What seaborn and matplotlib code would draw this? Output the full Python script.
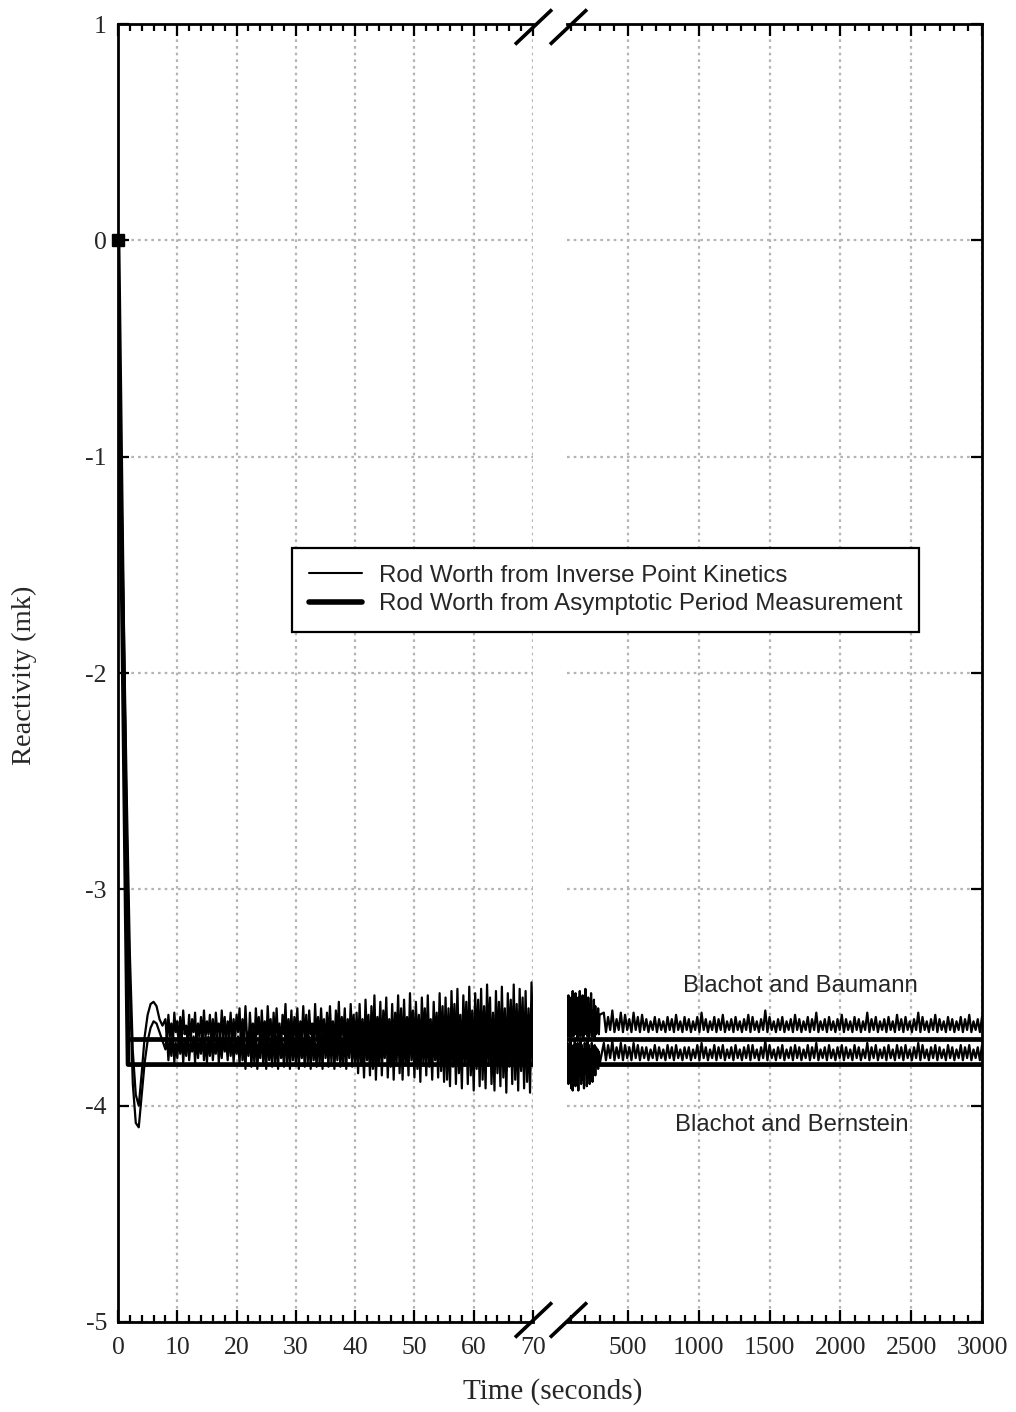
import numpy as np
import pandas as pd
import matplotlib
matplotlib.use("Agg")
import matplotlib.pyplot as plt
from matplotlib.lines import Line2D
from matplotlib.ticker import MultipleLocator, FixedLocator
import seaborn as sns

# ---------------- data ----------------
# early transient of the inverse point kinetics (IPK) results
t_early = [0.0, 0.5, 1.0, 1.5, 2.0, 2.5, 3.0, 3.5, 4.0, 4.5, 5.0, 5.5, 6.0, 6.5, 7.0, 7.5]
ipk_baumann_early = [0.0, -1.0, -1.8, -2.6, -3.3, -3.75, -3.95, -4.0, -3.85, -3.68,
                     -3.58, -3.53, -3.52, -3.54, -3.60, -3.63]
ipk_bernstein_early = [0.0, -1.05, -1.9, -2.75, -3.45, -3.9, -4.08, -4.1, -3.95, -3.8,
                       -3.70, -3.64, -3.61, -3.62, -3.66, -3.70]

# IPK, 8 s .. 70 s, sampled every 0.25 s
ipk_step_left = 0.25
ipk_baumann_left = [
    -3.60, -3.70, -3.58, -3.68, -3.62, -3.71, -3.57, -3.66, -3.61, -3.72,
    -3.59, -3.69, -3.56, -3.67, -3.63, -3.70, -3.58, -3.71, -3.60, -3.66,
    -3.57, -3.72, -3.62, -3.68, -3.59, -3.70, -3.56, -3.69, -3.61, -3.67,
    -3.58, -3.71, -3.60, -3.72, -3.57, -3.66, -3.62, -3.70, -3.56, -3.68,
    -3.59, -3.71, -3.61, -3.67, -3.57, -3.72, -3.60, -3.69, -3.58,
    -3.66, -3.55, -3.72, -3.60, -3.70, -3.54, -3.68, -3.74, -3.57, -3.69,
    -3.62, -3.73, -3.55, -3.67, -3.59, -3.74, -3.56, -3.70, -3.61, -3.72,
    -3.54, -3.68, -3.60, -3.73, -3.57, -3.71, -3.55, -3.69, -3.62, -3.74,
    -3.58, -3.67, -3.53, -3.72, -3.60, -3.70, -3.56, -3.74, -3.59, -3.68,
    -3.55, -3.73, -3.61, -3.69, -3.54, -3.71, -3.58, -3.74, -3.56, -3.67,
    -3.62, -3.73, -3.53, -3.70, -3.59, -3.72, -3.55, -3.68, -3.60, -3.74,
    -3.57, -3.71, -3.54, -3.69, -3.61, -3.73, -3.56, -3.70, -3.52, -3.72,
    -3.59, -3.68, -3.55, -3.74, -3.60, -3.71, -3.53, -3.69, -3.58, -3.73,
    -3.57, -3.76, -3.53, -3.72, -3.60, -3.78, -3.51, -3.70, -3.58, -3.77,
    -3.54, -3.73, -3.49, -3.75, -3.59, -3.71, -3.52, -3.78, -3.56, -3.69,
    -3.50, -3.76, -3.60, -3.74, -3.53, -3.77, -3.57, -3.70, -3.49, -3.75,
    -3.55, -3.78, -3.51, -3.72, -3.59, -3.76, -3.48, -3.71, -3.56, -3.77,
    -3.52, -3.74, -3.58, -3.79, -3.50, -3.70, -3.55, -3.76, -3.49, -3.73,
    -3.60, -3.78, -3.52, -3.71, -3.57, -3.77, -3.48, -3.74, -3.54, -3.79,
    -3.50, -3.77, -3.55, -3.81, -3.47, -3.72, -3.53, -3.79, -3.46, -3.74,
    -3.58, -3.82, -3.49, -3.70, -3.52, -3.80, -3.45, -3.76, -3.56, -3.83,
    -3.48, -3.73, -3.51, -3.81, -3.46, -3.78, -3.54, -3.82, -3.44, -3.71,
    -3.50, -3.79, -3.57, -3.83, -3.47, -3.75, -3.52, -3.81, -3.45, -3.77,
    -3.55, -3.84, -3.48, -3.72, -3.51, -3.80, -3.44, -3.78, -3.53, -3.83,
    -3.46, -3.74, -3.50, -3.82, -3.47, -3.79, -3.55, -3.84, -3.43, -3.70,
]
ipk_bernstein_left = [
    -3.74, -3.67, -3.79, -3.70, -3.77, -3.66, -3.80, -3.71, -3.78, -3.68,
    -3.76, -3.67, -3.80, -3.69, -3.77, -3.66, -3.79, -3.71, -3.75, -3.68,
    -3.80, -3.67, -3.78, -3.70, -3.76, -3.66, -3.79, -3.69, -3.80, -3.68,
    -3.77, -3.67, -3.79, -3.71, -3.76, -3.66, -3.80, -3.69, -3.78, -3.67,
    -3.75, -3.70, -3.79, -3.66, -3.77, -3.68, -3.80, -3.69, -3.76,
    -3.68, -3.81, -3.65, -3.79, -3.70, -3.83, -3.66, -3.77, -3.64, -3.82,
    -3.69, -3.80, -3.65, -3.83, -3.71, -3.78, -3.64, -3.81, -3.67, -3.83,
    -3.66, -3.79, -3.70, -3.82, -3.64, -3.80, -3.68, -3.83, -3.65, -3.78,
    -3.71, -3.82, -3.63, -3.80, -3.67, -3.83, -3.65, -3.79, -3.69, -3.81,
    -3.64, -3.83, -3.66, -3.78, -3.70, -3.82, -3.63, -3.80, -3.68, -3.83,
    -3.65, -3.79, -3.71, -3.82, -3.64, -3.81, -3.67, -3.83, -3.63, -3.78,
    -3.69, -3.82, -3.65, -3.80, -3.62, -3.83, -3.68, -3.79, -3.64, -3.82,
    -3.70, -3.81, -3.63, -3.83, -3.66, -3.78, -3.62, -3.82, -3.67, -3.80,
    -3.66, -3.85, -3.62, -3.81, -3.69, -3.87, -3.61, -3.79, -3.67, -3.86,
    -3.63, -3.83, -3.60, -3.88, -3.68, -3.80, -3.62, -3.86, -3.65, -3.78,
    -3.60, -3.87, -3.69, -3.82, -3.63, -3.88, -3.66, -3.80, -3.59, -3.85,
    -3.64, -3.88, -3.61, -3.81, -3.68, -3.86, -3.59, -3.79, -3.65, -3.87,
    -3.62, -3.83, -3.67, -3.89, -3.60, -3.80, -3.64, -3.86, -3.59, -3.82,
    -3.69, -3.88, -3.61, -3.79, -3.66, -3.87, -3.58, -3.84, -3.63, -3.89,
    -3.60, -3.88, -3.65, -3.91, -3.57, -3.82, -3.63, -3.90, -3.56, -3.85,
    -3.68, -3.92, -3.58, -3.80, -3.62, -3.90, -3.55, -3.86, -3.66, -3.93,
    -3.58, -3.83, -3.61, -3.91, -3.56, -3.88, -3.64, -3.92, -3.54, -3.81,
    -3.60, -3.90, -3.67, -3.93, -3.57, -3.85, -3.62, -3.91, -3.55, -3.87,
    -3.65, -3.94, -3.58, -3.82, -3.61, -3.90, -3.54, -3.88, -3.63, -3.93,
    -3.56, -3.84, -3.60, -3.92, -3.57, -3.89, -3.65, -3.94, -3.53, -3.80,
]

# IPK, 70 s .. 300 s every 5 s
ipk_step_mid = 5
ipk_baumann_mid = [
    -3.52, -3.68, -3.49, -3.66, -3.55, -3.69, -3.50, -3.64, -3.47, -3.68,
    -3.53, -3.67, -3.48, -3.65, -3.56, -3.69, -3.50, -3.66, -3.47, -3.68,
    -3.54, -3.64, -3.49, -3.69, -3.52, -3.67, -3.46, -3.65, -3.55, -3.68,
    -3.50, -3.69, -3.53, -3.66, -3.48, -3.68, -3.56, -3.65, -3.51, -3.69,
    -3.54, -3.67, -3.57, -3.66, -3.55, -3.67, -3.58,
]
ipk_bernstein_mid = [
    -3.86, -3.71, -3.90, -3.73, -3.88, -3.70, -3.92, -3.74, -3.93, -3.72,
    -3.87, -3.70, -3.91, -3.75, -3.89, -3.71, -3.93, -3.73, -3.86, -3.70,
    -3.90, -3.72, -3.88, -3.74, -3.92, -3.71, -3.85, -3.73, -3.91, -3.70,
    -3.87, -3.72, -3.90, -3.74, -3.86, -3.71, -3.89, -3.73, -3.84, -3.72,
    -3.86, -3.73, -3.82, -3.74, -3.83, -3.75, -3.81,
]

# IPK, 330 s .. 3000 s every 15 s
ipk_step_late = 15
ipk_baumann_late = [
    -3.57, -3.66, -3.59, -3.65, -3.56, -3.66, -3.60, -3.65, -3.57, -3.66,
    -3.58, -3.65, -3.60, -3.66, -3.57, -3.65, -3.59, -3.66, -3.58, -3.65,
    -3.60, -3.66, -3.61, -3.65, -3.59, -3.66, -3.60, -3.65, -3.61, -3.66,
    -3.59, -3.65, -3.60, -3.66, -3.58, -3.65, -3.61, -3.66, -3.59, -3.65,
    -3.60, -3.66, -3.61, -3.65, -3.59, -3.66, -3.57, -3.65, -3.60, -3.66,
    -3.61, -3.65, -3.59, -3.66, -3.60, -3.65, -3.58, -3.66, -3.61, -3.65,
    -3.60, -3.66, -3.59, -3.65, -3.61, -3.66, -3.60, -3.65, -3.58, -3.66,
    -3.59, -3.65, -3.61, -3.66, -3.60, -3.65, -3.56, -3.66, -3.59, -3.65,
    -3.61, -3.66, -3.60, -3.65, -3.59, -3.66, -3.61, -3.65, -3.60, -3.66,
    -3.58, -3.65, -3.60, -3.66, -3.61, -3.65, -3.59, -3.66, -3.60, -3.65,
    -3.57, -3.66, -3.61, -3.65, -3.60, -3.66, -3.59, -3.65, -3.61, -3.66,
    -3.60, -3.65, -3.58, -3.66, -3.60, -3.65, -3.61, -3.66, -3.59, -3.65,
    -3.60, -3.66, -3.61, -3.65, -3.57, -3.66, -3.60, -3.65, -3.59, -3.66,
    -3.61, -3.65, -3.60, -3.66, -3.59, -3.65, -3.61, -3.66, -3.58, -3.65,
    -3.60, -3.66, -3.59, -3.65, -3.61, -3.66, -3.60, -3.65, -3.57, -3.66,
    -3.59, -3.65, -3.61, -3.66, -3.60, -3.65, -3.58, -3.66, -3.60, -3.65,
    -3.61, -3.66, -3.59, -3.65, -3.60, -3.66, -3.61, -3.65, -3.59, -3.66,
    -3.60, -3.65, -3.58, -3.66, -3.61, -3.65, -3.60, -3.66, -3.59,
]
ipk_bernstein_late = [
    -3.71, -3.79, -3.72, -3.78, -3.70, -3.79, -3.73, -3.78, -3.71, -3.79,
    -3.72, -3.78, -3.73, -3.79, -3.71, -3.78, -3.72, -3.79, -3.73, -3.78,
    -3.73, -3.79, -3.74, -3.78, -3.72, -3.79, -3.73, -3.78, -3.74, -3.79,
    -3.72, -3.78, -3.73, -3.79, -3.72, -3.78, -3.74, -3.79, -3.73, -3.78,
    -3.73, -3.79, -3.74, -3.78, -3.72, -3.79, -3.71, -3.78, -3.73, -3.79,
    -3.74, -3.78, -3.72, -3.79, -3.73, -3.78, -3.72, -3.79, -3.74, -3.78,
    -3.73, -3.79, -3.72, -3.78, -3.74, -3.79, -3.73, -3.78, -3.72, -3.79,
    -3.72, -3.78, -3.74, -3.79, -3.73, -3.78, -3.70, -3.79, -3.72, -3.78,
    -3.74, -3.79, -3.73, -3.78, -3.72, -3.79, -3.74, -3.78, -3.73, -3.79,
    -3.72, -3.78, -3.73, -3.79, -3.74, -3.78, -3.72, -3.79, -3.73, -3.78,
    -3.71, -3.79, -3.74, -3.78, -3.73, -3.79, -3.72, -3.78, -3.74, -3.79,
    -3.73, -3.78, -3.72, -3.79, -3.73, -3.78, -3.74, -3.79, -3.72, -3.78,
    -3.73, -3.79, -3.74, -3.78, -3.71, -3.79, -3.73, -3.78, -3.72, -3.79,
    -3.74, -3.78, -3.73, -3.79, -3.72, -3.78, -3.74, -3.79, -3.72, -3.78,
    -3.73, -3.79, -3.72, -3.78, -3.74, -3.79, -3.73, -3.78, -3.71, -3.79,
    -3.72, -3.78, -3.74, -3.79, -3.73, -3.78, -3.72, -3.79, -3.73, -3.78,
    -3.74, -3.79, -3.72, -3.78, -3.73, -3.79, -3.74, -3.78, -3.72, -3.79,
    -3.73, -3.78, -3.72, -3.79, -3.74, -3.78, -3.73, -3.79, -3.72,
]

# asymptotic period measurement (thick lines)
apm_bernstein_t = [0.0, 1.7, 3000.0]
apm_bernstein = [0.0, -3.81, -3.81]
apm_baumann_t = [2.0, 3000.0]
apm_baumann = [-3.69, -3.69]

left_xticks = [0, 10, 20, 30, 40, 50, 60, 70]
right_xticks = [500, 1000, 1500, 2000, 2500, 3000]
yticks = [1, 0, -1, -2, -3, -4, -5]

legend_labels = ["Rod Worth from Inverse Point Kinetics",
                 "Rod Worth from Asymptotic Period Measurement"]
annot_baumann = "Blachot and Baumann"
annot_bernstein = "Blachot and Bernstein"

# ---------------- assemble series ----------------
t_left = np.concatenate([t_early, 8.0 + ipk_step_left * np.arange(len(ipk_baumann_left))])
t_mid = 70.0 + ipk_step_mid * np.arange(len(ipk_baumann_mid))
t_late = 330.0 + ipk_step_late * np.arange(len(ipk_baumann_late))
t_right = np.concatenate([t_mid, t_late])

left_df = pd.DataFrame({
    "t": np.concatenate([t_left, t_left]),
    "rho": np.concatenate([ipk_baumann_early + ipk_baumann_left,
                           ipk_bernstein_early + ipk_bernstein_left]),
    "set": ["Baumann"] * len(t_left) + ["Bernstein"] * len(t_left),
})
right_df = pd.DataFrame({
    "t": np.concatenate([t_right, t_right]),
    "rho": np.concatenate([ipk_baumann_mid + ipk_baumann_late,
                           ipk_bernstein_mid + ipk_bernstein_late]),
    "set": ["Baumann"] * len(t_right) + ["Bernstein"] * len(t_right),
})
apm_df = pd.DataFrame({
    "t": apm_bernstein_t + apm_baumann_t,
    "rho": apm_bernstein + apm_baumann,
    "set": ["Bernstein"] * len(apm_bernstein_t) + ["Baumann"] * len(apm_baumann_t),
})

# ---------------- style ----------------
sns.set_theme(style="white")
plt.rcParams["font.family"] = ["Liberation Serif", "DejaVu Serif"]
plt.rcParams["axes.unicode_minus"] = False
plt.rcParams["axes.edgecolor"] = "black"

W, H = 1016, 1412
fig = plt.figure(figsize=(W / 100, H / 100), dpi=100)
fig.patch.set_facecolor("white")

ax_bottom = (H - 1322) / H
ax_height = 1298 / H
ax1 = fig.add_axes([118 / W, ax_bottom, 415 / W, ax_height])
ax2 = fig.add_axes([567 / W, ax_bottom, 415 / W, ax_height])

thin_lw = 1.6
thick_lw = 3.4

for ax, df in ((ax1, left_df), (ax2, right_df)):
    sns.lineplot(data=df, x="t", y="rho", units="set", estimator=None, sort=False,
                 color="black", linewidth=thin_lw, ax=ax, legend=False)
    sns.lineplot(data=apm_df, x="t", y="rho", units="set", estimator=None, sort=False,
                 color="black", linewidth=thick_lw, ax=ax, legend=False)

ax1.plot([apm_bernstein_t[0]], [apm_bernstein[0]], marker="s", markersize=9,
         color="black", clip_on=False, zorder=5)

ax1.set_xlim(0, 70)
ax2.set_xlim(70, 3000)
tick_fs = 18.5
for ax in (ax1, ax2):
    ax.set_ylim(-5, 1)
    ax.set_xlabel("")
    ax.set_ylabel("")
    ax.set_facecolor("white")
    ax.yaxis.set_major_locator(FixedLocator(yticks))
    ax.grid(True, which="major", color="#b4b4b4", linestyle=(0, (1.2, 1.8)), linewidth=1.6)
    for s in ax.spines.values():
        s.set_linewidth(2.0)
        s.set_color("black")
    ax.tick_params(axis="x", which="both", direction="in", top=True, bottom=True,
                   labelsize=tick_fs, pad=11, width=1.6, color="black")
    ax.tick_params(axis="x", which="major", length=8.5)
    ax.tick_params(axis="x", which="minor", length=5)

ax1.xaxis.set_major_locator(FixedLocator(left_xticks))
ax1.xaxis.set_minor_locator(MultipleLocator(2))
ax2.xaxis.set_major_locator(FixedLocator(right_xticks))
ax2.xaxis.set_minor_locator(MultipleLocator(100))

ax1.spines["right"].set_visible(False)
ax2.spines["left"].set_visible(False)
ax1.tick_params(axis="y", which="major", direction="in", left=True, right=False,
                length=8, width=1.6, labelsize=tick_fs, pad=8, color="black")
ax2.tick_params(axis="y", which="major", direction="in", left=False, right=True,
                labelleft=False, labelright=False, length=8, width=1.6, color="black")

# break marks
def slash(xc, yc):
    fig.add_artist(Line2D([(xc - 18.5) / W, (xc + 18.5) / W],
                          [1 - (yc + 17.5) / H, 1 - (yc - 17.5) / H],
                          transform=fig.transFigure, color="black", linewidth=2.6,
                          solid_capstyle="butt"))

for xc in (533.5, 568.5):
    slash(xc, 27)
    slash(xc, 1320)

# axis labels
fig.text(553 / W, 1 - 1392 / H, "Time (seconds)", ha="center", va="center", fontsize=21)
fig.text(24 / W, 1 - 675 / H, "Reactivity (mk)", ha="center", va="center",
         rotation=90, fontsize=20.5)

# annotations
sans = ["Liberation Sans", "DejaVu Sans"]
ax2.text(889, -3.445, annot_baumann, ha="left", va="center", fontsize=17.2, family=sans)
ax2.text(832, -4.09, annot_bernstein, ha="left", va="center", fontsize=17.2, family=sans)

# legend
handles = [Line2D([], [], color="black", linewidth=1.5),
           Line2D([], [], color="black", linewidth=4.0)]
leg = fig.legend(handles, legend_labels, loc="upper left",
                 bbox_to_anchor=(292 / W, 1 - 548 / H), bbox_transform=fig.transFigure,
                 borderaxespad=0, frameon=True, fancybox=False, shadow=False,
                 prop={"family": sans, "size": 17.4}, handlelength=2.2,
                 handletextpad=0.7, borderpad=0.7, labelspacing=0.25)
leg.get_frame().set_edgecolor("black")
leg.get_frame().set_linewidth(1.6)
leg.get_frame().set_alpha(1)

fig.savefig("out.png", dpi=100, facecolor="white")
